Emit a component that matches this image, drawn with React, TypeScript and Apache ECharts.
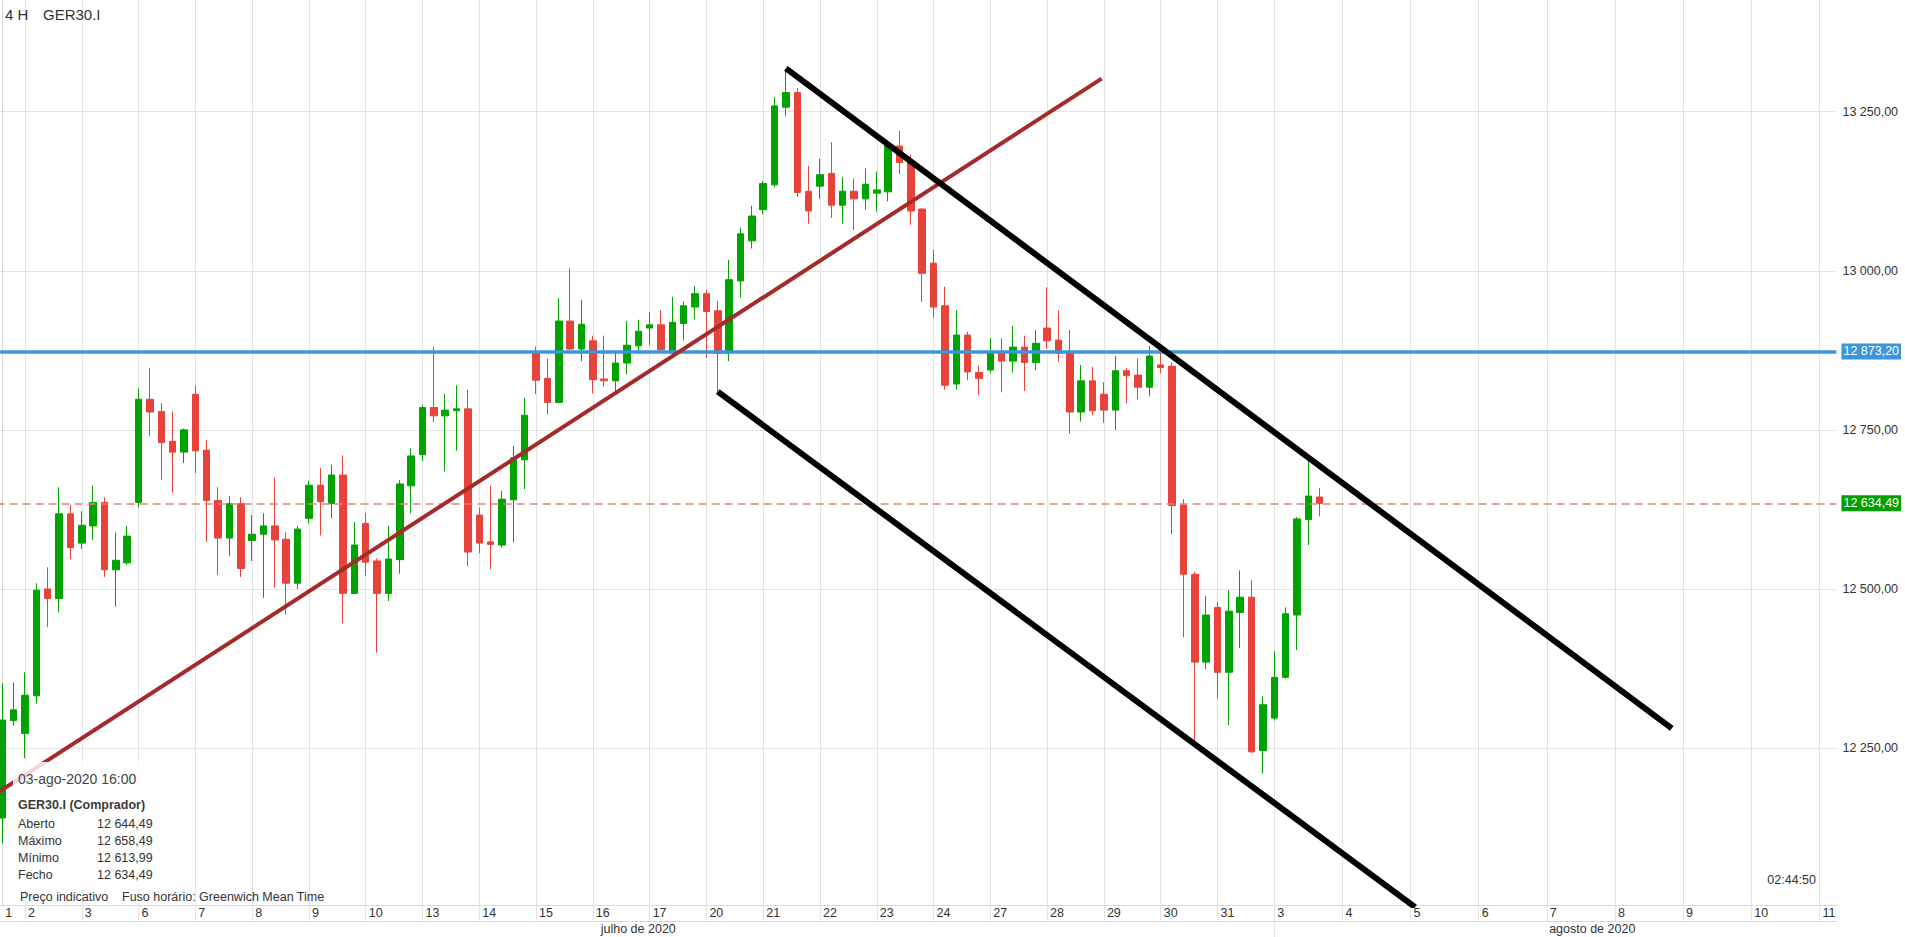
import React, { useEffect, useRef } from "react";
import * as echarts from "echarts";

// ---------- data ----------
const julyDays = [1, 2, 3, 6, 7, 8, 9, 10, 13, 14, 15, 16, 17, 20, 21, 22, 23, 24, 27, 28, 29, 30, 31];
const augustDays = [3, 4, 5, 6, 7, 8, 9, 10, 11];
const firstDayHours = [12, 16];
const tradingHours = [0, 4, 8, 12, 16];
const fullDayHours = [0, 4, 8, 12, 16, 20];
const lastDayHours = [0, 4];
const monthNames = ["julho de 2020", "agosto de 2020"];

const opens = [
  12140, 12293, 12273, 12332, 12500, 12485, 12618, 12572, 12599, 12636,
  12530, 12541, 12636, 12798, 12779, 12732, 12715, 12806, 12718, 12639,
  12580, 12634, 12576, 12586, 12599, 12578, 12509, 12611, 12663, 12634,
  12679, 12493, 12603, 12544, 12493, 12546, 12662, 12711, 12785, 12772,
  12780, 12783, 12616, 12574, 12569, 12640, 12703, 12872, 12831, 12793,
  12921, 12877, 12890, 12830, 12827, 12855, 12882, 12910, 12915, 12871,
  12917, 12943, 12964, 12937, 12871, 12984, 13047, 13096, 13135, 13257,
  13280, 13125, 13133, 13153, 13103, 13125, 13113, 13122, 13124, 13196,
  13172, 13097, 13012, 12945, 12822, 12899, 12840, 12844, 12873, 12858,
  12880, 12856, 12910, 12891, 12872, 12778, 12827, 12806, 12781, 12843,
  12836, 12817, 12852, 12850, 12632, 12523, 12385, 12471, 12369, 12463,
  12487, 12246, 12297, 12361, 12459, 12609, 12644.49,
];
const closes = [
  12294, 12310, 12333, 12498, 12485, 12618, 12565, 12600, 12636, 12530,
  12545, 12583, 12798, 12778, 12730, 12715, 12750, 12717, 12639, 12580,
  12634, 12532, 12586, 12599, 12577, 12509, 12594, 12663, 12637, 12679,
  12493, 12569, 12542, 12493, 12547, 12665, 12709, 12785, 12772, 12781,
  12783, 12558, 12572, 12570, 12641, 12706, 12773, 12828, 12793, 12921,
  12877, 12916, 12829, 12827, 12855, 12883, 12905, 12915, 12876, 12919,
  12945, 12964, 12936, 12870, 12986, 13058, 13086, 13137, 13259, 13280,
  13123, 13094, 13151, 13103, 13125, 13113, 13136, 13127, 13197, 13170,
  13094, 12996, 12943, 12820, 12899, 12841, 12831, 12873, 12858, 12880,
  12856, 12886, 12890, 12870, 12778, 12827, 12780, 12781, 12843, 12835,
  12817, 12866, 12848, 12631, 12523, 12385, 12459, 12369, 12465, 12487,
  12244, 12318, 12361, 12461, 12610, 12646, 12634.49,
];
const lows = [
  12100, 12285, 12234, 12320, 12440, 12463, 12547, 12563, 12577, 12519,
  12472, 12538, 12628, 12740, 12671, 12651, 12698, 12682, 12574, 12522,
  12552, 12519, 12544, 12486, 12502, 12460, 12500, 12603, 12584, 12611,
  12446, 12492, 12520, 12400, 12481, 12524, 12619, 12701, 12762, 12685,
  12717, 12536, 12556, 12531, 12565, 12573, 12657, 12806, 12774, 12792,
  12876, 12858, 12807, 12818, 12811, 12837, 12869, 12883, 12875, 12870,
  12890, 12924, 12863, 12810, 12858, 12958, 13035, 13089, 13131, 13243,
  13116, 13074, 13113, 13083, 13074, 13064, 13096, 13093, 13109, 13152,
  13072, 12951, 12926, 12813, 12813, 12828, 12805, 12840, 12809, 12840,
  12811, 12844, 12877, 12857, 12744, 12763, 12773, 12761, 12750, 12792,
  12798, 12803, 12839, 12586, 12424, 12257, 12374, 12328, 12286, 12407,
  12242, 12210, 12293, 12359, 12404, 12569, 12613.99,
];
const highs = [
  12352, 12353, 12369, 12509, 12534, 12660, 12632, 12622, 12663, 12644,
  12589, 12599, 12815, 12847, 12792, 12779, 12752, 12820, 12734, 12660,
  12646, 12644, 12616, 12619, 12675, 12589, 12599, 12670, 12690, 12695,
  12710, 12605, 12619, 12548, 12599, 12671, 12721, 12789, 12880, 12807,
  12820, 12813, 12628, 12662, 12654, 12725, 12800, 12881, 12862, 12957,
  13004, 12954, 12898, 12898, 12871, 12921, 12923, 12935, 12938, 12959,
  12952, 12976, 12970, 12953, 13017, 13068, 13102, 13141, 13273, 13316,
  13287, 13165, 13176, 13202, 13147, 13145, 13161, 13156, 13203, 13220,
  13182, 13098, 13033, 12975, 12938, 12904, 12851, 12894, 12894, 12913,
  12898, 12907, 12974, 12938, 12907, 12852, 12849, 12825, 12866, 12847,
  12862, 12882, 12873, 12856, 12641, 12527, 12489, 12479, 12498, 12529,
  12514, 12331, 12402, 12471, 12613, 12701, 12658.49,
];

const resistanceLevel = 12873.2;
// trend lines: [slot index, price]
const brownTrend = [[-1, 12173], [96.8, 13302]];
const channelUpper = [[69, 13318], [147, 12281]];
const channelLower = [[63, 12810], [124.4, 12000]];

const yMin = 12003.3;
const yMax = 13425.5;
const yStep = 250;

// ---------- layout / style ----------
const W = 1905;
const H = 937;
const SLOT = 11.357;
const GRID_LEFT = -3.4;
const GRID_BOTTOM = 32;
const MONTH_LABEL_SLOTS = [56, 140];
const FONT = "'Liberation Sans', Arial, sans-serif";
const UP = "#00a300";
const DOWN = "#e8433a";
const BLUE = "#3a96dd";
const BADGE_GREEN = "#00a000";
const GRID_COLOR = "#e3e3e3";
const TEXT = "#333333";

const pad = (n: number) => (n < 10 ? "0" + n : String(n));
const fmt = (v: number) => {
  const [i, d] = v.toFixed(2).split(".");
  return i.replace(/\B(?=(\d{3})+(?!\d))/g, " ") + "," + d;
};

// build slots
const categories: string[] = [];
const dayLabelByCat: Record<string, string> = {};
const gridSlots = new Set<number>();
julyDays.forEach((d, di) => {
  const hours = di === 0 ? firstDayHours : tradingHours;
  hours.forEach((h, hi) => {
    const name = `2020-07-${pad(d)} ${pad(h)}:00`;
    if (hi === 0) {
      dayLabelByCat[name] = String(d);
      if (di > 0) gridSlots.add(categories.length);
    }
    categories.push(name);
  });
});
const augustStart = categories.length;
augustDays.forEach((d, di) => {
  const hours = di === augustDays.length - 1 ? lastDayHours : fullDayHours;
  hours.forEach((h, hi) => {
    const name = `2020-08-${pad(d)} ${pad(h)}:00`;
    if (hi === 0) {
      dayLabelByCat[name] = String(d);
      gridSlots.add(categories.length);
    }
    categories.push(name);
  });
});
const monthLabelByCat: Record<string, string> = {};
MONTH_LABEL_SLOTS.forEach((s, i) => {
  monthLabelByCat[categories[s]] = monthNames[i];
});

const candles = opens.map((o, i) => [o, closes[i], lows[i], highs[i]]);
const last = candles.length - 1;

function buildOption() {
  const gridWidth = SLOT * categories.length;
  const gridRight = W - (GRID_LEFT + gridWidth);
  const isGrid = (i: number) => gridSlots.has(i);
  const hasDayLabel = (_i: number, v: string) => dayLabelByCat[v] !== undefined;

  const txt = (x: number, y: number, text: string, size: number, opts: any = {}) => ({
    type: "text",
    x,
    y,
    z: 101,
    silent: true,
    style: {
      text,
      fill: opts.fill || TEXT,
      font: `${opts.weight || "normal"} ${size}px ${FONT}`,
      align: opts.align || "left",
      verticalAlign: "middle",
    },
  });

  const boxTop = 762;
  const rowY = [824.3, 841.3, 858.3, 875];
  const rowNames = ["Aberto", "Máximo", "Mínimo", "Fecho"];
  const rowVals = [opens[last], highs[last], lows[last], closes[last]];

  const badge = (bg: string, text: string) => ({
    show: true,
    position: "end",
    distance: 5,
    formatter: text,
    backgroundColor: bg,
    color: "#ffffff",
    padding: [2, 2, 1, 2],
    fontSize: 12.5,
    fontFamily: FONT,
  });

  return {
    animation: false,
    backgroundColor: "#ffffff",
    textStyle: { fontFamily: FONT },
    grid: {
      left: GRID_LEFT,
      right: gridRight,
      top: 0,
      bottom: GRID_BOTTOM,
      containLabel: false,
      outerBoundsMode: "none",
    },
    xAxis: [
      {
        type: "category",
        data: categories,
        boundaryGap: true,
        position: "bottom",
        axisLine: { show: true, lineStyle: { color: "#d9d9d9", width: 1 } },
        axisTick: {
          show: true,
          alignWithLabel: true,
          interval: (i: number) => isGrid(i),
          length: 16,
          lineStyle: { color: GRID_COLOR },
        },
        axisLabel: {
          show: true,
          interval: hasDayLabel,
          formatter: (v: string) => dayLabelByCat[v] || "",
          align: "left",
          padding: [0, 0, 0, 3],
          margin: 1,
          color: TEXT,
          fontSize: 12.5,
        },
        splitLine: {
          show: true,
          alignWithLabel: true,
          interval: (i: number) => isGrid(i),
          lineStyle: { color: GRID_COLOR, width: 1 },
        },
      },
      {
        type: "value",
        min: -0.5,
        max: categories.length - 0.5,
        show: false,
        position: "top",
      },
      {
        type: "category",
        data: categories,
        boundaryGap: true,
        position: "bottom",
        offset: 16,
        axisLine: { show: true, lineStyle: { color: "#d9d9d9", width: 1 } },
        axisTick: {
          show: true,
          alignWithLabel: true,
          interval: (i: number) => i === augustStart,
          length: 16,
          lineStyle: { color: GRID_COLOR },
        },
        axisLabel: {
          show: true,
          interval: (_i: number, v: string) => monthLabelByCat[v] !== undefined,
          formatter: (v: string) => monthLabelByCat[v] || "",
          margin: 1,
          color: TEXT,
          fontSize: 12.5,
        },
        splitLine: { show: false },
      },
    ],
    yAxis: {
      type: "value",
      position: "right",
      min: yMin,
      max: yMax,
      minInterval: yStep,
      maxInterval: yStep,
      axisLine: { show: true, lineStyle: { color: "#d9d9d9" } },
      axisTick: { show: false },
      axisLabel: {
        formatter: (v: number) => fmt(v),
        showMinLabel: false,
        showMaxLabel: false,
        margin: 6,
        color: TEXT,
        fontSize: 12.5,
      },
      splitLine: {
        show: true,
        showMinLine: false,
        showMaxLine: false,
        lineStyle: { color: GRID_COLOR, width: 1 },
      },
    },
    series: [
      {
        type: "candlestick",
        xAxisIndex: 0,
        yAxisIndex: 0,
        data: candles,
        barWidth: 7,
        silent: true,
        itemStyle: {
          color: UP,
          color0: DOWN,
          borderColor: UP,
          borderColor0: DOWN,
          borderWidth: 1,
        },
        markLine: {
          silent: true,
          symbol: ["none", "none"],
          animation: false,
          data: [
            {
              yAxis: closes[last],
              lineStyle: { color: "#ee7d75", width: 1.5, type: [8, 5] },
              label: badge(BADGE_GREEN, fmt(closes[last])),
            },
            {
              yAxis: resistanceLevel,
              lineStyle: { color: BLUE, width: 3.5, type: "solid" },
              label: badge(BLUE, fmt(resistanceLevel)),
            },
          ],
        },
      },
      {
        type: "line",
        xAxisIndex: 1,
        yAxisIndex: 0,
        data: brownTrend,
        symbol: "none",
        silent: true,
        z: 6,
        lineStyle: { color: "#a52a2a", width: 4 },
      },
      {
        type: "line",
        xAxisIndex: 1,
        yAxisIndex: 0,
        data: channelUpper,
        symbol: "none",
        silent: true,
        z: 7,
        lineStyle: { color: "#000000", width: 6 },
      },
      {
        type: "line",
        xAxisIndex: 1,
        yAxisIndex: 0,
        data: channelLower,
        symbol: "none",
        silent: true,
        z: 7,
        lineStyle: { color: "#000000", width: 6 },
      },
    ],
    graphic: [
      txt(5, 14, "4 H", 15),
      txt(43, 14, "GER30.I", 15),
      {
        type: "rect",
        z: 100,
        silent: true,
        shape: { x: 13, y: boxTop, width: 153, height: 128 },
        style: { fill: "rgba(255,255,255,0.82)" },
      },
      txt(18, 779, "03-ago-2020 16:00", 14, { fill: "#444444" }),
      txt(18, 805, "GER30.I (Comprador)", 12.5, { weight: "bold", fill: "#3a3a3a" }),
      ...rowNames.map((n, i) => txt(18, rowY[i], n, 12.5)),
      ...rowVals.map((v, i) => txt(97, rowY[i], fmt(v), 12.5)),
      txt(20, 897, "Preço indicativo", 12.5),
      txt(122, 897, "Fuso horário: Greenwich Mean Time", 12.5),
      txt(1816, 880, "02:44:50", 12.5, { align: "right" }),
    ],
  };
}

export default function App() {
  const ref = useRef<HTMLDivElement>(null);
  useEffect(() => {
    if (!ref.current) return;
    const chart = echarts.init(ref.current, null, { renderer: "svg" });
    chart.setOption(buildOption() as any);
    return () => {
      chart.dispose();
    };
  }, []);
  return (
    <div
      ref={ref}
      style={{ position: "fixed", left: 0, top: 0, width: W, height: H, background: "#ffffff" }}
    />
  );
}
